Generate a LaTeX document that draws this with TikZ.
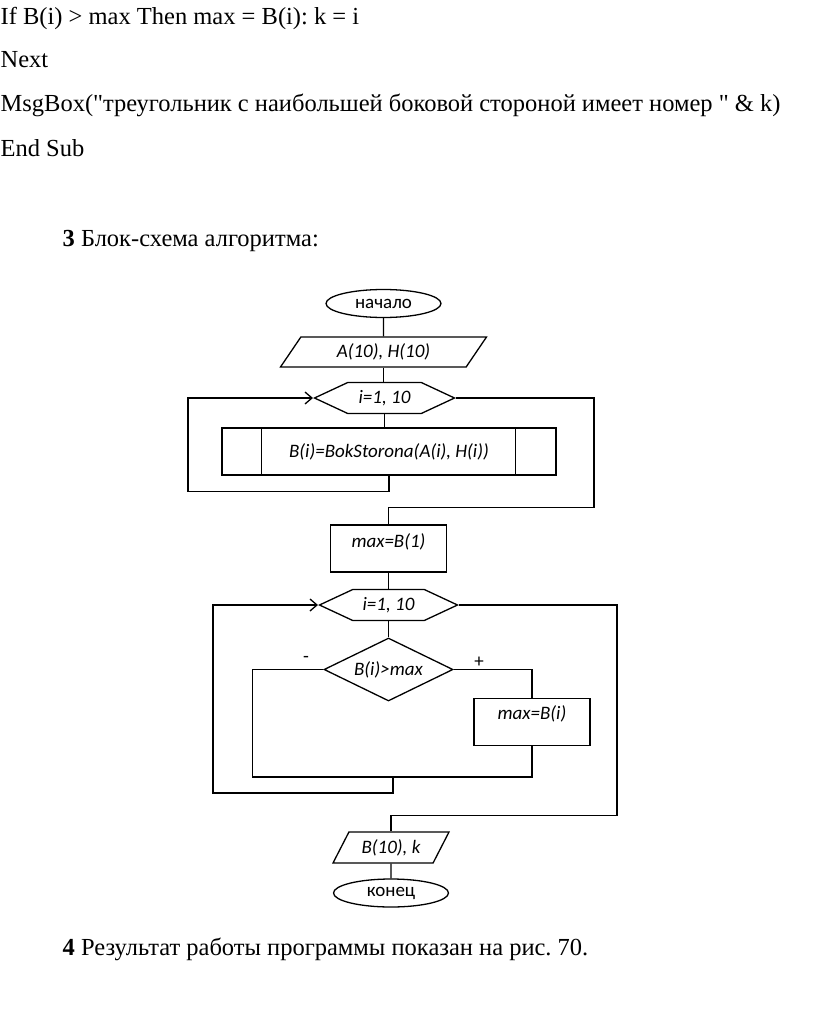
\documentclass[tikz,border=0pt]{standalone}
\usepackage{fontspec}
\setmainfont{Liberation Serif}[Ligatures=TeXOff]
\newfontfamily\calfont{Carlito}
\usetikzlibrary{shapes.geometric,shapes.symbols,arrows.meta}
\frenchspacing
\begin{document}
\begin{tikzpicture}[x=1pt,y=-1pt,
  line width=1.3pt,
  body/.style={font=\fontsize{24.5}{28}\selectfont, inner sep=0pt, anchor=base west},
  fc/.style={font=\calfont\itshape\fontsize{19}{22}\selectfont, draw, inner sep=0pt, line width=1.3pt},
  term/.style={fc, font=\calfont\fontsize{19}{22}\selectfont, ellipse, minimum width=115pt, minimum height=28pt},
  iobox/.style={fc, trapezium, trapezium stretches body, minimum height=30pt},
  loopbox/.style={fc, signal, signal to=west and east, signal pointer angle=50, minimum width=140pt, minimum height=31pt},
  procbox/.style={fc, rectangle, minimum width=116pt, minimum height=47pt, text height=14pt},
  subbox/.style={fc, rectangle, minimum width=334pt, minimum height=47pt},
  decbox/.style={fc, diamond, aspect=2.05, minimum width=129pt, minimum height=63pt},
  sign/.style={font=\calfont\fontsize{19}{22}\selectfont, inner sep=0pt},
  arr/.style={-{Straight Barb[length=7pt,width=12pt]}}]
\fill[white] (0,0) rectangle (816,1022);
\useasboundingbox (0,0) rectangle (816,1022);
% text lines
\node[body] (l1) at (0,25) {If B(i) > max Then max = B(i): k = i};
\node[body] (l2) at (0,68) {Next};
\node[body] (l3) at (0,112) {MsgBox("треугольник с наибольшей боковой стороной имеет номер " \& k)};
\node[body] (l4) at (0,156) {End Sub};
\node[body] (l5) at (62,246) {\textbf{3} Блок-схема алгоритма:};
\node[body] (l6) at (62,955) {\textbf{4} Результат работы программы показан на рис. 70.};
% flowchart nodes
\node[term] (start) at (383.5,303.5) {начало};
\node[iobox, minimum width=206pt, trapezium left angle=39, trapezium right angle=141] (in) at (383.5,352) {A(10), H(10)};
\node[loopbox] (h1) at (384.5,398) {i=1, 10};
\node[subbox] (sub) at (389,451.5) {B(i)=BokStorona(A(i), H(i))};
\draw ([xshift=40]sub.north west) -- ([xshift=40]sub.south west);
\draw ([xshift=-41]sub.north east) -- ([xshift=-41]sub.south east);
\node[procbox, text depth=16pt] (b1) at (388.5,548.5) {max=B(1)};
\node[loopbox, minimum width=138pt] (h2) at (388.5,605) {i=1, 10};
\node[decbox] (dec) at (388.5,669.5) {B(i)>max};
\node[procbox, text depth=19pt] (b2) at (532,722) {max=B(i)};
\node[iobox, minimum width=116pt, minimum height=31pt, trapezium left angle=46, trapezium right angle=134] (out) at (391,847.5) {B(10), k};
\node[term] (stop) at (391,893) {конец};
\node[sign] (minus) at (306,659) {-};
\node[sign] (plus) at (479,662) {+};
\coordinate (join) at (393,777);
% connectors
\draw (start.south) -- (in.north);
\draw (in.south) -- (in.south |- h1.north);
\draw (h1.south) -- (h1.south |- sub.north);
\draw[arr] (sub.south) -- ++(0,16) -| ([xshift=-125]h1.west) -- (h1.west);
\draw (h1.east) -- ++(138,0) |- ([yshift=17]b1.north) -- (b1.north);
\draw (b1.south) -- (h2.north);
\draw (h2.south) -- (dec.north);
\draw (dec.east) -| (b2.north);
\draw (dec.west) -- ++(-71,0) |- (join);
\draw (b2.south) |- (join);
\draw[arr] (join) -- ++(0,16) -| ([xshift=-105]h2.west) -- (h2.west);
\draw (h2.east) -- ++(158,0) |- ([yshift=16]out.north) -- (out.north);
\draw (out.south) -- (stop.north);
\end{tikzpicture}
\end{document}
